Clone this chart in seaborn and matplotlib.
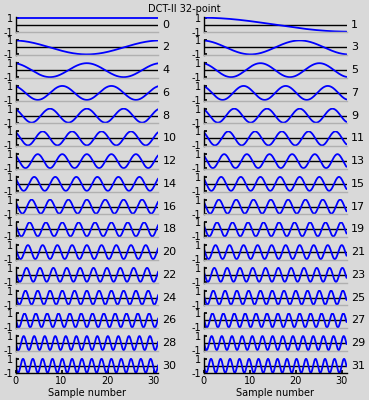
import numpy as np
import pandas as pd
import seaborn as sns
import matplotlib.pyplot as plt

sns.set_theme(style='white')
plt.rcParams['font.family'] = ['DejaVu Sans']
plt.rcParams['text.color'] = 'black'
plt.rcParams['xtick.color'] = 'black'
plt.rcParams['ytick.color'] = 'black'
plt.rcParams['axes.labelcolor'] = 'black'

# DCT-II 32-point basis functions
N = 32
orders = list(range(32))
xticks = [0, 10, 20, 30]
bg = '#d9d9d9'

x = np.linspace(0, N - 1, 600)
frames = []
for k in orders:
    frames.append(pd.DataFrame({'n': x, 'k': k,
                                'v': np.cos(np.pi * k * (2 * x + 1) / (2 * N))}))
df = pd.concat(frames)

fig, axes = plt.subplots(16, 2, figsize=(3.69, 4.0), dpi=100, facecolor=bg)
fig.subplots_adjust(left=15.5 / 369, right=346.5 / 369, top=1 - 17 / 400,
                    bottom=1 - 373.5 / 400, hspace=0.48, wspace=0.32)

for k in orders:
    ax = axes[k // 2, k % 2]
    ax.set_facecolor(bg)
    ax.axhline(0, color='black', lw=1.0, zorder=1)
    sns.lineplot(data=df[df.k == k], x='n', y='v', ax=ax, color='#0000ff',
                 lw=1.3, zorder=2)
    ax.set_xlim(0, N - 1)
    ax.set_ylim(-1.1, 1.1)
    ax.set_yticks([-1, 1])
    ax.set_yticklabels(['-1', '1'], fontsize=7)
    ax.set_xlabel('')
    ax.set_ylabel('')
    for s in ['top', 'right']:
        ax.spines[s].set_visible(False)
    ax.spines['left'].set_color('black')
    ax.spines['left'].set_linewidth(1.0)
    ax.tick_params(axis='y', direction='in', length=2, pad=2, left=True)
    ax.text(1.03, 0.5, str(k), transform=ax.transAxes, fontsize=8,
            va='center', ha='left')
    if k // 2 == 15:
        ax.set_xticks(xticks)
        ax.set_xticklabels([str(t) for t in xticks], fontsize=7)
        ax.tick_params(axis='x', direction='in', length=2, pad=2, bottom=True)
        ax.spines['bottom'].set_color('black')
        ax.set_xlabel('Sample number', fontsize=7, labelpad=1)
    else:
        ax.set_xticks([])
        ax.spines['bottom'].set_color('#b0b0b0')
    ax.spines['bottom'].set_linewidth(1.0)

fig.suptitle('DCT-II 32-point', fontsize=7, y=0.99, va='top')

fig.savefig('out.png', dpi=100, facecolor=bg)
